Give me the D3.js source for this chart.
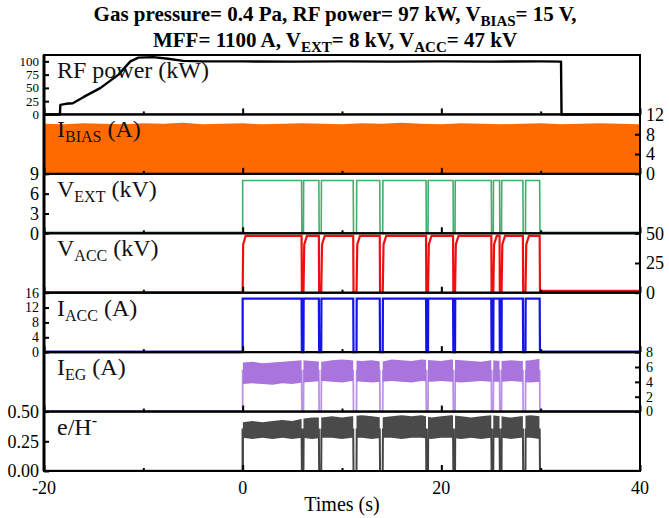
<!DOCTYPE html>
<html><head><meta charset="utf-8">
<script src="https://cdn.jsdelivr.net/npm/d3@7"></script>
<style>body{margin:0;background:#fff}svg{display:block}text{font-family:"Liberation Serif","Times New Roman",serif}</style>
</head><body><svg id="c" width="669" height="518"></svg>
<script>
// ---------- data ----------
const xTicks = [-20, 0, 20, 40];
const xMinorTicks = [-10, 10, 30];
const beamOn = 0, beamOff = 29.9;
const dipStart = [5.93, 7.67, 11.13, 13.8, 18.46, 21.18, 25.03, 25.86, 28.21];
const dipEnd   = [6.12, 7.91, 11.46, 14.1, 18.66, 21.38, 25.23, 26.06, 28.47];

const rfT = [-20, -18.4, -18.35, -17.8, -17.1, -16, -14.3, -12.5, -11.3, -10.5, -9, -7.5, -6, -4, 0, 5, 10, 15, 20, 25, 30, 32.05, 32.1, 40];
const rfV = [0, 0, 18, 20, 21, 33, 50, 75, 100, 107, 108, 105, 101, 100, 100, 99.5, 100, 99.5, 100, 99.5, 100, 99.5, 0, 0];

const envT = [-20,-18,-16,-14,-12,-10,-8,-6,-4,-2,0,2,4,6,8,10,12,14,16,18,20,22,24,26,28,30,32,34,36,38,40];
const ibiasTop = [10.1,10.0,10.2,10.1,10.0,10.2,10.1,10.3,10.0,10.1,10.2,10.0,10.1,10.2,10.1,10.0,10.2,10.1,10.3,10.1,10.0,10.2,10.1,10.0,10.1,10.2,10.0,10.1,10.2,10.1,10.0];

const vextOn = 8.0, vextOff = 0.15;
const vaccOn = 47.8, vaccAfter = 1.5;
const iaccOn = 14.4;

const bandT    = [0, 1, 2, 3, 4, 5, 6, 7, 8, 9, 10, 11, 12, 13, 14, 15, 16, 17, 18, 19, 20, 21, 22, 23, 24, 25, 26, 27, 28, 29, 29.9];
const iegUpper = [6.6,6.7,6.5,6.6,6.7,6.8,6.9,6.8,6.7,6.9,7.0,6.9,6.8,6.9,6.7,7.0,6.9,6.8,7.0,6.9,6.8,7.0,6.9,6.8,6.7,6.9,6.8,6.9,6.8,6.9,7.1];
const iegLower = [3.7,3.8,3.7,3.6,3.8,3.7,3.9,4.0,4.1,4.0,3.9,4.1,4.0,3.9,4.0,4.1,4.0,3.9,4.1,4.0,4.1,4.0,3.9,4.0,4.1,4.0,4.0,4.1,4.0,3.9,4.0];
const ehUpper  = [0.41,0.42,0.41,0.42,0.43,0.42,0.44,0.45,0.45,0.46,0.45,0.46,0.47,0.46,0.45,0.46,0.47,0.46,0.47,0.45,0.46,0.47,0.46,0.45,0.46,0.47,0.46,0.45,0.46,0.47,0.46];
const ehLower  = [0.28,0.27,0.28,0.27,0.28,0.27,0.28,0.27,0.28,0.28,0.27,0.28,0.28,0.27,0.28,0.28,0.27,0.28,0.28,0.27,0.28,0.28,0.27,0.28,0.27,0.28,0.28,0.27,0.28,0.28,0.27];
const iegLevel = 5.5, ehLevel = 0.35;

const panelDefs = [
  {key:"rf",    domain:[0,112], side:"left",  ticks:[0,25,50,75,100], fmt:d=>d, fs:13},
  {key:"ibias", domain:[0,12],  side:"right", ticks:[0,4,8,12], fmt:d=>d, fs:18},
  {key:"vext",  domain:[0,9],   side:"left",  ticks:[0,3,6,9], fmt:d=>d, fs:18},
  {key:"vacc",  domain:[0,50],  side:"right", ticks:[0,25,50], fmt:d=>d, fs:18},
  {key:"iacc",  domain:[0,16],  side:"left",  ticks:[0,4,8,12,16], fmt:d=>d, fs:14},
  {key:"ieg",   domain:[0,8],   side:"right", ticks:[0,2,4,6,8], fmt:d=>d, fs:14},
  {key:"eh",    domain:[0,0.5], side:"left",  ticks:[0,0.25,0.5], fmt:d3.format(".2f"), fs:18}
];

// ---------- layout ----------
const svg = d3.select("#c");
const L = 44, R = 640, T = 55, B = 471;
const ph = (B - T) / panelDefs.length;
const x = d3.scaleLinear().domain([-20, 40]).range([L, R]);
const ys = {};
panelDefs.forEach((p, i) => {
  p.top = T + i * ph; p.bot = p.top + ph;
  ys[p.key] = d3.scaleLinear().domain(p.domain).range([p.bot, p.top]);
});

// helpers to assemble series from the event arrays
function pulse(low, high, before, after, rampEnd) {
  const pts = [[-20, before], [beamOn, before]];
  if (rampEnd) { pts.push([beamOn + 0.05, high * 0.85], [beamOn + 0.3, high]); }
  else pts.push([beamOn, high]);
  dipStart.forEach((s, i) => {
    pts.push([s, high], [s + 0.03, low], [dipEnd[i], low]);
    if (rampEnd) pts.push([dipEnd[i] + 0.08, high * 0.85], [dipEnd[i] + 0.35, high]);
    else pts.push([dipEnd[i] + 0.02, high]);
  });
  pts.push([beamOff, high], [beamOff + 0.03, after], [40, after]);
  return pts;
}
const line = d3.line().x(d => x(d[0]));

// clip for "beam on" segments
const defs = svg.append("defs");
const onSegs = [];
let segS = beamOn;
dipStart.forEach((s, i) => { onSegs.push([segS, s]); segS = dipEnd[i]; });
onSegs.push([segS, beamOff]);
const cp = defs.append("clipPath").attr("id", "onclip");
onSegs.forEach(s => cp.append("rect").attr("x", x(s[0])).attr("y", 0).attr("width", x(s[1]) - x(s[0])).attr("height", 518));

// ---------- IBIAS ----------
svg.append("path")
  .attr("d", d3.area().x((d, i) => x(envT[i])).y0(ys.ibias(0)).y1(d => ys.ibias(d))(ibiasTop))
  .attr("fill", "#ff6a00");

// ---------- RF power ----------
svg.append("path")
  .attr("d", line.y((d, i) => ys.rf(rfV[i]))(rfT.map(t => [t])))
  .attr("fill", "none").attr("stroke", "#000").attr("stroke-width", 2.4).attr("stroke-linejoin", "round");

// ---------- VEXT ----------
const vextPts = pulse(0, vextOn, vextOff, vextOff, false);
svg.append("path").attr("d", d3.line().x(d => x(d[0])).y(d => ys.vext(d[1]))(vextPts))
  .attr("fill", "none").attr("stroke", "#3fae6e").attr("stroke-width", 1.6);

// ---------- VACC ----------
const vaccPts = pulse(0, vaccOn, 0.3, vaccAfter, true);
svg.append("path").attr("d", d3.line().x(d => x(d[0])).y(d => ys.vacc(d[1]))(vaccPts))
  .attr("fill", "none").attr("stroke", "#ee1010").attr("stroke-width", 2.2);

// ---------- IACC ----------
const iaccPts = pulse(0, iaccOn, 0.05, 0.05, false);
svg.append("path").attr("d", d3.line().x(d => x(d[0])).y(d => ys.iacc(d[1]))(iaccPts))
  .attr("fill", "none").attr("stroke", "#1414e6").attr("stroke-width", 2.2);
svg.append("path").attr("d", d3.line().x(d => x(d[0])).y(d => ys.iacc(d[1]))([[-20, 0.05], [0, 0.05]]))
  .attr("fill", "none").attr("stroke", "#1a1a80").attr("stroke-width", 2.4);
svg.append("path").attr("d", d3.line().x(d => x(d[0])).y(d => ys.iacc(d[1]))([[beamOff, 0.05], [40, 0.05]]))
  .attr("fill", "none").attr("stroke", "#1a1a90").attr("stroke-width", 2.4);

// ---------- IEG ----------
const iegPts = pulse(0, iegLevel, 0.1, 0.1, false);
svg.append("path").attr("d", d3.line().x(d => x(d[0])).y(d => ys.ieg(d[1]))(iegPts))
  .attr("fill", "none").attr("stroke", "#b994e6").attr("stroke-width", 1.8);
svg.append("path")
  .attr("d", d3.area().x((d, i) => x(bandT[i])).y0((d, i) => ys.ieg(iegLower[i])).y1(d => ys.ieg(d))(iegUpper))
  .attr("fill", "#a974dc").attr("clip-path", "url(#onclip)");

// ---------- e/H- ----------
const ehPts = pulse(0, ehLevel, 0.003, 0.003, false);
svg.append("path").attr("d", d3.line().x(d => x(d[0])).y(d => ys.eh(d[1]))(ehPts))
  .attr("fill", "none").attr("stroke", "#444").attr("stroke-width", 2);
svg.append("path").attr("d", d3.line().x(d => x(d[0])).y(d => ys.eh(d[1]))([[0.02, 0], [0.02, ehLevel]]))
  .attr("fill", "none").attr("stroke", "#444").attr("stroke-width", 2);
svg.append("path")
  .attr("d", d3.area().x((d, i) => x(bandT[i])).y0((d, i) => ys.eh(ehLower[i])).y1(d => ys.eh(d))(ehUpper))
  .attr("fill", "#4a4a4a").attr("clip-path", "url(#onclip)");

// ---------- frames, ticks, labels ----------
panelDefs.forEach(p => {
  const y = ys[p.key];
  const g = svg.append("g").attr("transform", `translate(0,${p.bot})`);
  g.call(d3.axisTop(x).tickValues(xTicks).tickSize(6).tickFormat(""));
  g.append("g").call(d3.axisTop(x).tickValues(xMinorTicks).tickSize(3).tickFormat(""));
  g.selectAll(".domain").remove();
  g.selectAll("line").attr("stroke", "#000").attr("stroke-width", 2);
  const ga = svg.append("g");
  if (p.side === "left") {
    ga.attr("transform", `translate(${L},0)`).call(d3.axisRight(y).tickValues(p.ticks).tickSize(5).tickFormat(""));
  } else {
    ga.attr("transform", `translate(${R},0)`).call(d3.axisLeft(y).tickValues(p.ticks).tickSize(5).tickFormat(""));
  }
  ga.selectAll(".domain").remove();
  ga.selectAll("line").attr("stroke", "#000").attr("stroke-width", 2);
  svg.append("g").selectAll("text").data(p.ticks).join("text")
    .attr("x", p.side === "left" ? L - 5 : R + 6)
    .attr("y", d => y(d)).attr("dy", "0.35em")
    .attr("text-anchor", p.side === "left" ? "end" : "start")
    .attr("font-size", p.fs).text(p.fmt);
  svg.append("rect").attr("x", L).attr("y", p.top).attr("width", R - L).attr("height", ph)
    .attr("fill", "none").attr("stroke", "#000").attr("stroke-width", 2);
});
svg.append("line").attr("x1", L).attr("x2", L).attr("y1", T).attr("y2", B).attr("stroke", "#000").attr("stroke-width", 3);

// panel titles
const titles = [
  ["rf", [["RF power (kW)", 0, 24]]],
  ["ibias", [["I", 0, 24], ["BIAS", 5, 16], [" (A)", -5, 24]]],
  ["vext", [["V", 0, 24], ["EXT", 5, 16], [" (kV)", -5, 24]]],
  ["vacc", [["V", 0, 24], ["ACC", 5, 16], [" (kV)", -5, 24]]],
  ["iacc", [["I", 0, 24], ["ACC", 5, 16], [" (A)", -5, 24]]],
  ["ieg", [["I", 0, 24], ["EG", 5, 16], [" (A)", -5, 24]]],
  ["eh", [["e/H", 0, 24], ["-", -9, 16]]]
];
titles.forEach(([k, parts]) => {
  const p = panelDefs.find(d => d.key === k);
  const t = svg.append("text").attr("x", 57).attr("y", p.top + 23).attr("fill", "#111");
  parts.forEach(([s, dy, fs]) => t.append("tspan").attr("dy", dy).attr("font-size", fs).text(s));
});

// x labels
svg.append("g").selectAll("text").data(xTicks).join("text")
  .attr("x", d => x(d)).attr("y", 494).attr("text-anchor", "middle").attr("font-size", 18).text(d => d);
svg.append("text").attr("x", (L + R) / 2).attr("y", 511).attr("text-anchor", "middle").attr("font-size", 20).text("Times (s)");

// title
const t1 = svg.append("text").attr("x", 335).attr("y", 21).attr("text-anchor", "middle").attr("font-weight", "bold").attr("font-size", 21);
[["Gas pressure= 0.4 Pa, RF power= 97 kW, V", 0, 21], ["BIAS", 5, 15], ["= 15 V,", -5, 21]]
  .forEach(([s, dy, fs]) => t1.append("tspan").attr("dy", dy).attr("font-size", fs).text(s));
const t2 = svg.append("text").attr("x", 335).attr("y", 47).attr("text-anchor", "middle").attr("font-weight", "bold").attr("font-size", 21);
[["MFF= 1100 A, V", 0, 21], ["EXT", 5, 15], ["= 8 kV, V", -5, 21], ["ACC", 5, 15], ["= 47 kV", -5, 21]]
  .forEach(([s, dy, fs]) => t2.append("tspan").attr("dy", dy).attr("font-size", fs).text(s));
</script></body></html>
